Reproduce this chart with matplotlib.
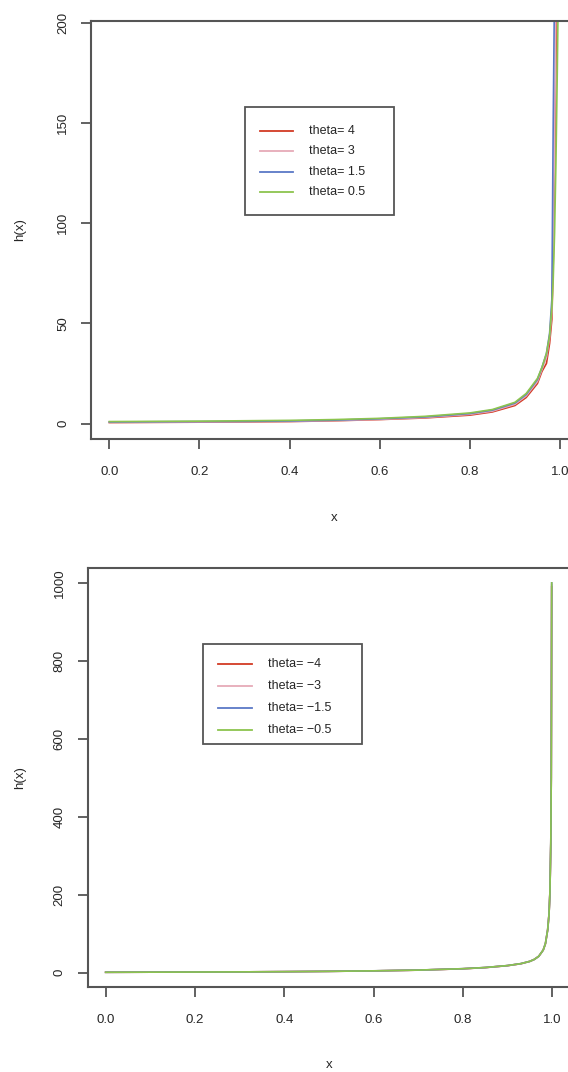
import matplotlib
matplotlib.use("Agg")
import matplotlib.pyplot as plt
from matplotlib.patches import Rectangle
from matplotlib.lines import Line2D

plt.rcParams['font.family'] = ['Liberation Sans', 'DejaVu Sans']

# ---- data ----
# top panel: positive theta
x_top = [0.0, 0.1, 0.2, 0.3, 0.4, 0.5, 0.6, 0.7, 0.8, 0.85, 0.9, 0.925,
         0.95, 0.96, 0.97, 0.977, 0.982, 0.985, 0.988, 0.991, 0.994, 0.997]
h_top = {
    "4":   [0.5, 0.6, 0.7, 0.8, 1.0, 1.4, 2.0, 2.8, 4.2, 5.8, 9.0, 13.0,
            20.0, 26.0, 30.0, 40.0, 52.0, 80.0, 120.0, 180.0, 230.0, 260.0],
    "3":   [0.6, 0.7, 0.8, 0.9, 1.1, 1.5, 2.1, 3.0, 4.6, 6.2, 9.6, 13.8,
            21.0, 27.0, 33.0, 43.0, 56.0, 90.0, 140.0, 210.0, 250.0, 270.0],
    "1.5": [0.8, 0.9, 1.0, 1.1, 1.3, 1.7, 2.4, 3.3, 5.0, 6.7, 10.2, 14.5,
            22.0, 28.0, 35.0, 45.0, 62.0, 150.0, 220.0, 250.0, 270.0, 290.0],
    "0.5": [1.0, 1.1, 1.2, 1.4, 1.6, 2.0, 2.6, 3.6, 5.3, 7.0, 10.6, 15.0,
            22.5, 28.0, 35.0, 44.0, 58.0, 72.0, 95.0, 130.0, 175.0, 230.0],
}

# bottom panel: negative theta
x_bot = [0.0, 0.1, 0.2, 0.3, 0.4, 0.5, 0.6, 0.7, 0.8, 0.85, 0.9, 0.93,
         0.95, 0.96, 0.97, 0.98, 0.985, 0.99, 0.993, 0.995, 0.997, 0.998, 0.999]
h_bot = {
    "\u22124":   [1.0, 1.3, 1.6, 2.0, 2.6, 3.4, 4.6, 6.5, 10.0, 13.0, 18.0, 23.0,
                  29.0, 34.0, 42.0, 58.0, 74.0, 110.0, 150.0, 205.0, 330.0, 500.0, 990.0],
    "\u22123":   [1.0, 1.3, 1.6, 2.0, 2.6, 3.4, 4.6, 6.5, 10.0, 13.0, 18.0, 23.0,
                  29.0, 34.0, 42.0, 58.0, 75.0, 110.0, 150.0, 205.0, 333.0, 500.0, 995.0],
    "\u22121.5": [1.0, 1.3, 1.6, 2.0, 2.6, 3.4, 4.7, 6.6, 10.2, 13.2, 18.2, 23.2,
                  29.0, 34.0, 42.0, 58.0, 75.0, 110.0, 150.0, 205.0, 333.0, 500.0, 1000.0],
    "\u22120.5": [1.0, 1.3, 1.6, 2.0, 2.6, 3.4, 4.7, 6.6, 10.2, 13.2, 18.2, 23.2,
                  29.0, 34.0, 42.0, 58.0, 75.0, 110.0, 150.0, 205.0, 333.0, 500.0, 1000.0],
}

colors = ["#d23a24", "#e6aab8", "#5b78c6", "#8cc44e"]
x_ticks = [0.0, 0.2, 0.4, 0.6, 0.8, 1.0]
y_ticks_top = [0, 50, 100, 150, 200]
y_ticks_bot = [0, 200, 400, 600, 800, 1000]

W, H = 568, 1072
fig = plt.figure(figsize=(W / 100, H / 100), dpi=100)
fig.patch.set_facecolor("white")

spine_col = "#555555"
text_col = "#262626"


def px_rect(left, top, right, bottom):
    return [left / W, 1 - bottom / H, (right - left) / W, (bottom - top) / H]


def style_axes(ax, yticks):
    for s in ax.spines.values():
        s.set_color(spine_col)
        s.set_linewidth(1.5)
        s.set_clip_on(False)
    ax.set_xticks(x_ticks)
    ax.set_xticklabels(["%.1f" % v for v in x_ticks])
    ax.set_yticks(yticks)
    ax.set_yticklabels([str(v) for v in yticks], rotation=90, va="center")
    ax.tick_params(axis="both", direction="out", length=7.5, width=1.3,
                   color=spine_col, labelcolor=text_col, labelsize=9.5)
    ax.tick_params(axis="x", pad=12)
    ax.tick_params(axis="y", pad=8.5)


def draw_legend(ax, labels, box, rows, line_x, text_x):
    l, t, r, b = box
    fig.add_artist(Rectangle((l / W, 1 - b / H), (r - l) / W, (b - t) / H,
                             transform=fig.transFigure, fill=False,
                             edgecolor=spine_col, linewidth=1.3))
    for lab, c, y in zip(labels, colors, rows):
        fig.add_artist(Line2D([line_x[0] / W, line_x[1] / W], [1 - y / H, 1 - y / H],
                              transform=fig.transFigure, color=c, linewidth=1.3))
        fig.text(text_x / W, 1 - y / H, "theta= " + lab, fontsize=9,
                 color=text_col, ha="left", va="center")


# ---- top panel ----
ax1 = fig.add_axes(px_rect(91.3, 21, 578, 439))
for (lab, vals), c in zip(h_top.items(), colors):
    ax1.plot(x_top, vals, color=c, linewidth=1.2)
ax1.set_xlim(-0.04, 1.04)
ax1.set_ylim(-7.7, 200.8)
style_axes(ax1, y_ticks_top)
ax1.set_xlabel("x", fontsize=9.5, color=text_col)
ax1.xaxis.set_label_coords(0.5, (439 - 518) / 418)
ax1.xaxis.label.set_va("center")
ax1.set_ylabel("h(x)", fontsize=9.5, color=text_col)
ax1.yaxis.set_label_coords((20 - 91.3) / 487, 0.5)
ax1.yaxis.label.set_va("center")
draw_legend(ax1, list(h_top.keys()), (244.6, 106.7, 394, 215),
            [130.7, 151.2, 171.7, 192.0], (260, 293), 309)

# ---- bottom panel ----
ax2 = fig.add_axes(px_rect(87.8, 567.7, 570, 986.7))
for (lab, vals), c in zip(h_bot.items(), colors):
    ax2.plot(x_bot, vals, color=c, linewidth=1.2)
ax2.set_xlim(-0.04, 1.04)
ax2.set_ylim(-36, 1039)
style_axes(ax2, y_ticks_bot)
ax2.set_xlabel("x", fontsize=9.5, color=text_col)
ax2.xaxis.set_label_coords(0.5, (986.7 - 1065) / 419)
ax2.xaxis.label.set_va("center")
ax2.set_ylabel("h(x)", fontsize=9.5, color=text_col)
ax2.yaxis.set_label_coords((20 - 87.8) / 482, 0.5)
ax2.yaxis.label.set_va("center")
draw_legend(ax2, list(h_bot.keys()), (203, 644, 362, 744),
            [664, 686, 708, 730], (218, 252), 268)

fig.savefig("out.png", dpi=100)
